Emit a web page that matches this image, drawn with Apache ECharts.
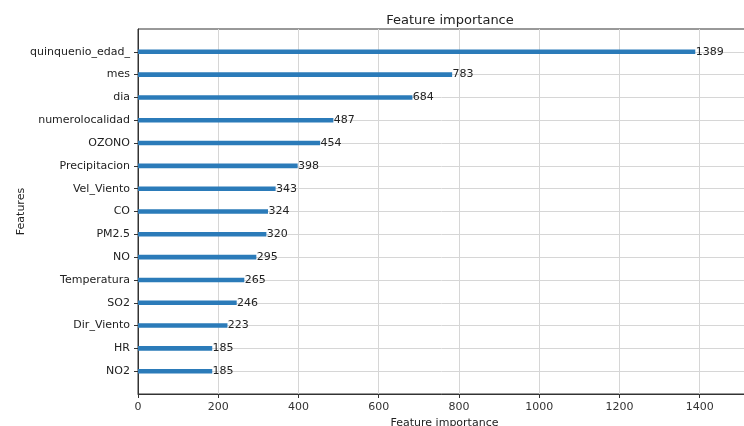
<!DOCTYPE html>
<html>
<head>
<meta charset="utf-8">
<script src="https://cdn.jsdelivr.net/npm/echarts@6/dist/echarts.min.js"></script>
<style>
  html, body { margin: 0; padding: 0; background: #fff; }
  #chart { width: 744px; height: 426px; }
</style>
</head>
<body>
<div id="chart"></div>
<script>
// Feature names, listed top to bottom as drawn
const features = [
  'quinquenio_edad_', 'mes', 'dia', 'numerolocalidad', 'OZONO',
  'Precipitacion', 'Vel_Viento', 'CO', 'PM2.5', 'NO',
  'Temperatura', 'SO2', 'Dir_Viento', 'HR', 'NO2'
];
// Split counts per feature
const importance = [1389, 783, 684, 487, 454, 398, 343, 324, 320, 295, 265, 246, 223, 185, 185];
const xTicks = [0, 200, 400, 600, 800, 1000, 1200, 1400];

const FONT = 'DejaVu Sans';
const positions = features.map((_, i) => i);
const xMax = Math.max(...importance) * 1.1;

const chart = echarts.init(document.getElementById('chart'), null, { renderer: 'canvas' });

chart.setOption({
  animation: false,
  backgroundColor: '#ffffff',
  title: {
    text: 'Feature importance',
    left: 445,
    top: 9,
    textAlign: 'center',
    textStyle: { fontFamily: FONT, fontSize: 13, fontWeight: 'normal', color: '#222' }
  },
  grid: {
    left: 138, top: 29, width: 613, height: 365,
    outerBoundsMode: 'none',
    containLabel: false,
    show: true, borderColor: '#333', borderWidth: 1, backgroundColor: 'transparent'
  },
  xAxis: {
    type: 'value',
    min: 0,
    max: xMax,
    interval: 200,
    name: 'Feature importance',
    nameLocation: 'middle',
    nameGap: 24,
    nameMoveOverlap: false,
    nameTextStyle: { fontFamily: FONT, fontSize: 11, color: '#222' },
    axisLine: { show: true, onZero: false, lineStyle: { color: '#333', width: 1 } },
    axisTick: { show: true, length: 4, lineStyle: { color: '#333' }, customValues: xTicks },
    axisLabel: {
      fontFamily: FONT, fontSize: 11, color: '#333', margin: 8,
      customValues: xTicks,
      formatter: v => String(v)
    },
    splitLine: { show: true, lineStyle: { color: '#d6d6d6', width: 1 } }
  },
  yAxis: {
    type: 'value',
    min: -1,
    max: 15,
    interval: 1,
    inverse: true,
    name: 'Features',
    nameLocation: 'middle',
    nameGap: 111,
    nameRotate: 90,
    nameMoveOverlap: false,
    nameTextStyle: { fontFamily: FONT, fontSize: 11, color: '#222' },
    axisLine: { show: true, onZero: false, lineStyle: { color: '#333', width: 1 } },
    axisTick: { show: true, length: 4, lineStyle: { color: '#333' }, customValues: positions },
    axisLabel: {
      fontFamily: FONT, fontSize: 11, color: '#222', margin: 8,
      customValues: positions,
      formatter: v => features[v] !== undefined ? features[v] : ''
    },
    splitLine: { show: true, lineStyle: { color: '#d6d6d6', width: 1 } }
  },
  series: [{
    type: 'custom',
    data: importance.map((v, i) => [v, i]),
    renderItem: function (params, api) {
      const val = api.value(0);
      const idx = api.value(1);
      const start = api.coord([0, idx]);
      const end = api.coord([val, idx]);
      const h = Math.abs(api.size([0, 0.2])[1]);
      const labelPos = api.coord([val + 1, idx]);
      return {
        type: 'group',
        children: [
          {
            type: 'rect',
            shape: { x: start[0], y: start[1] - h / 2, width: end[0] - start[0], height: h },
            style: { fill: '#2b7bb9' }
          },
          {
            type: 'text',
            x: labelPos[0],
            y: labelPos[1],
            style: {
              text: String(val),
              fontFamily: FONT,
              fontSize: 11,
              fill: '#222',
              align: 'left',
              verticalAlign: 'middle'
            }
          }
        ]
      };
    }
  }]
});
</script>
</body>
</html>
